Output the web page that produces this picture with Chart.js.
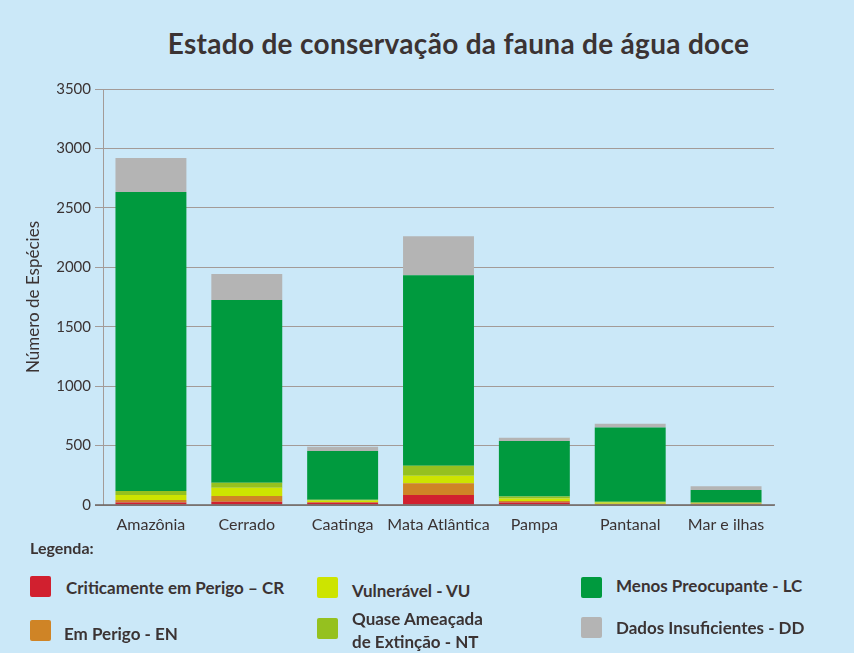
<!DOCTYPE html>
<html><head><meta charset="utf-8">
<script src="https://cdn.jsdelivr.net/npm/chart.js@4/dist/chart.umd.min.js"></script>
<style>
html,body{margin:0;padding:0;background:#cbe8f8;width:854px;height:653px;overflow:hidden;font-family:Lato,"Noto Sans",sans-serif;color:#3b3333}
#wrap{position:absolute;left:0;top:0;width:854px;height:545px}
#title{position:absolute;left:0;width:917px;top:26px;text-align:center;font-weight:bold;font-size:28px;letter-spacing:0.3px;color:#3b3333;white-space:nowrap}
.lg{position:absolute;font-weight:bold;font-size:17px;color:#3b3333;white-space:nowrap;line-height:23px}
.sw{position:absolute;width:21px;height:21px;border-radius:2px}
</style></head><body>
<div id="title">Estado de conservação da fauna de água doce</div>
<div id="wrap"><canvas id="c" width="854" height="545"></canvas></div>
<div class="lg" style="left:30px;top:536px;font-size:16px">Legenda:</div>
<div id="legend"></div>
<script>
const categories = ["Amazônia","Cerrado","Caatinga","Mata Atlântica","Pampa","Pantanal","Mar e ilhas"];
const seriesNames = ["Criticamente em Perigo – CR","Em Perigo - EN","Vulnerável - VU","Quase Ameaçada de Extinção - NT","Menos Preocupante - LC","Dados Insuficientes - DD"];
const CR = [22, 28, 18, 84, 20, 4, 6];
const EN = [20, 48, 8, 98, 14, 6, 6];
const VU = [42, 70, 12, 64, 20, 10, 4];
const NT = [34, 42, 6, 84, 17, 8, 4];
const LC = [2515, 1536, 410, 1604, 467, 625, 106];
const DD = [287, 219, 36, 328, 28, 31, 31];
const yTicks = [0, 500, 1000, 1500, 2000, 2500, 3000, 3500];
const colors = ["#d1202f","#cf8426","#cde400","#95c11f","#009a3e","#b4b4b4"];
const seriesValues = [CR, EN, VU, NT, LC, DD];

const datasets = seriesValues.map((v,i)=>({label:seriesNames[i],data:v,backgroundColor:colors[i],borderWidth:0,categoryPercentage:1,barPercentage:0.74}));

new Chart(document.getElementById('c'),{
  type:'bar',
  data:{labels:categories,datasets},
  options:{
    responsive:false,animation:false,
    layout:{padding:{top:89,right:80,left:0,bottom:0}},
    plugins:{legend:{display:false},tooltip:{enabled:false}},
    scales:{
      x:{stacked:true,
        grid:{display:false},
        border:{display:false},
        ticks:{color:'#3b3333',font:{family:'Lato',size:16},padding:2,autoSkip:false,maxRotation:0,minRotation:0},
        afterFit(s){s.height=40;}
      },
      y:{stacked:true,min:0,max:3500,
        afterBuildTicks(s){s.ticks=yTicks.map(v=>({value:v}));},
        grid:{color:'#a39b98',lineWidth:1,tickLength:8,drawTicks:true,tickColor:'#a39b98'},
        border:{display:true,color:'#a39b98',width:1},
        ticks:{color:'#3b3333',font:{family:'Lato',size:15},padding:4,callback:v=>String(v)},
        title:{display:true,text:'Número de Espécies',color:'#3b3333',font:{family:'Lato',size:17},padding:{top:23,bottom:0}},
        afterFit(s){s.width=103;}
      }
    }
  },
  plugins:[{id:'base',afterDatasetsDraw(ch){const c=ch.ctx,a=ch.chartArea,y=ch.scales.y.getPixelForValue(0);c.save();c.strokeStyle='#6d6462';c.lineWidth=1.5;c.beginPath();c.moveTo(95,y);c.lineTo(a.right+1,y);c.stroke();c.restore();}}]
});

const items=[
 {i:0,sx:30,sy:576,tx:66,ty:576,text:seriesNames[0]},
 {i:2,sx:317,sy:577,tx:352,ty:579,text:seriesNames[2]},
 {i:4,sx:581,sy:577,tx:616,ty:574,text:seriesNames[4]},
 {i:1,sx:30,sy:620,tx:64,ty:622,text:seriesNames[1]},
 {i:3,sx:317,sy:618,tx:352,ty:607,text:'Quase Ameaçada<br>de Extinção - NT'},
 {i:5,sx:581,sy:617,tx:616,ty:616,text:seriesNames[5]}
];
const L=document.getElementById('legend');
items.forEach(it=>{
  const s=document.createElement('div');s.className='sw';s.style.left=it.sx+'px';s.style.top=it.sy+'px';s.style.background=colors[it.i];L.appendChild(s);
  const t=document.createElement('div');t.className='lg';t.style.left=it.tx+'px';t.style.top=it.ty+'px';t.innerHTML=it.text;L.appendChild(t);
});
</script>
</body></html>
